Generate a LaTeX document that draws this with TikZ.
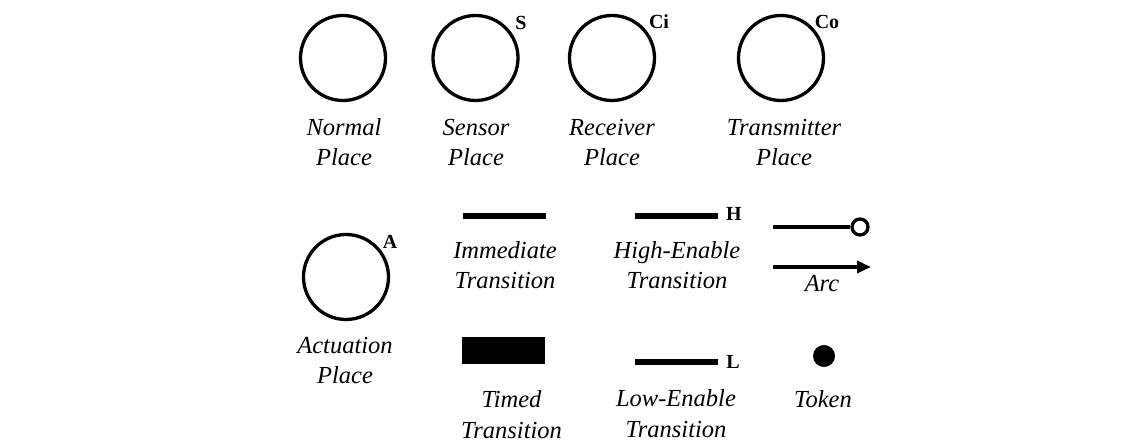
\documentclass[tikz,border=0pt]{standalone}
\usepackage{fontspec}
\setmainfont{Liberation Serif}
\usetikzlibrary{arrows.meta,positioning}

\begin{document}
\begin{tikzpicture}[
    x=1pt, y=-1pt,
    place/.style={circle, draw, line width=3.3pt, minimum size=85pt, inner sep=0pt},
    tag/.style={font=\fontsize{20}{22}\selectfont\bfseries, inner sep=0pt},
    caption/.style={font=\fontsize{24.5}{30.5}\selectfont\itshape, align=center, anchor=base, inner sep=0pt},
    bar/.style={rectangle, fill=black, minimum width=83pt, minimum height=6pt, inner sep=0pt},
    arcline/.style={line width=3.5pt},
    arrow/.style={-{Triangle[length=14pt,width=12pt]}, line width=3.3pt}
]

\useasboundingbox (0,0) rectangle (1143,443);

% Places
\node[place] (normal) at (343,58) {};
\node[place] (sensor) at (475.5,58) {};
\node[place] (receiver) at (612,58) {};
\node[place] (transmitter) at (781,58) {};
\node[place] (actuation) at (346,277) {};

\node[tag] (stag) at (521,23) {S};
\node[tag] (citag) at (659,22) {Ci};
\node[tag] (cotag) at (827,22) {Co};
\node[tag] (atag) at (390,242) {A};

% (base sits on the last line)
\node[caption] (normallbl) at (344,166) {Normal\\Place};
\node[caption] (sensorlbl) at (476,166) {Sensor\\Place};
\node[caption] (receiverlbl) at (612,166) {Receiver\\Place};
\node[caption] (transmitterlbl) at (784,166) {Transmitter\\Place};
\node[caption] (actuationlbl) at (345,384) {Actuation\\Place};

% Transitions
\node[bar] (immediate) at (504,216) {};
\node[bar, minimum height=27pt] (timed) at (503.5,350.5) {};
\node[bar] (highen) at (676,216) {};
\node[bar] (lowen) at (676,362) {};

\node[tag] (htag) at (734,214) {H};
\node[tag] (ltag) at (733,362) {L};

\node[caption] (immediatelbl) at (505,289) {Immediate\\Transition};
\node[caption] (timedlbl) at (511.5,438) {Timed\\Transition};
\node[caption] (highenlbl) at (677,289) {High-Enable\\Transition};
\node[caption] (lowenlbl) at (676,437) {Low-Enable\\Transition};

% Arcs
\coordinate (inhibstart) at (773,227);
\node[circle, draw, line width=3.3pt, minimum size=16pt, inner sep=0pt] (inhibend) at (860,227) {};
\draw[arcline] (inhibstart) -- (inhibend);

\coordinate (arcstart) at (773,267);
\coordinate (arcend) at (871,267);
\draw[arrow] (arcstart) -- (arcend);

\node[caption] (arclbl) at (822,292) {Arc};

% Token
\node[circle, fill=black, minimum size=22pt, inner sep=0pt] (token) at (824,356) {};
\node[caption] (tokenlbl) at (823,407) {Token};

\end{tikzpicture}
\end{document}
